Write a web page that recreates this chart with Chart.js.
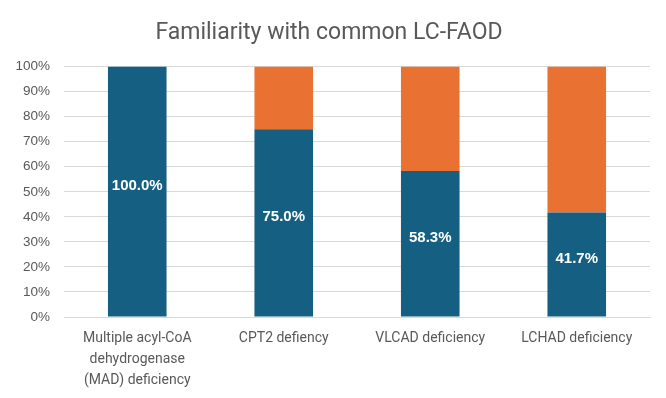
<!DOCTYPE html>
<html>
<head>
<meta charset="utf-8">
<script src="https://cdn.jsdelivr.net/npm/chart.js@4"></script>
<style>
  html, body { margin: 0; padding: 0; background: #fff; }
  #wrap { width: 666px; height: 398px; }
</style>
</head>
<body>
<div id="wrap"><canvas id="myChart" width="666" height="398"></canvas></div>
<script>
const categories = [
  ['Multiple acyl-CoA', 'dehydrogenase', '(MAD) deficiency'],
  'CPT2 defiency',
  'VLCAD deficiency',
  'LCHAD deficiency'
];
const familiar = [100.0, 75.0, 58.3, 41.7];
const notFamiliar = [0, 25.0, 41.7, 58.3];

// white bold value labels inside the blue bars
const barLabels = {
  id: 'barLabels',
  afterDatasetsDraw(chart) {
    const ctx = chart.ctx;
    const meta = chart.getDatasetMeta(0);
    ctx.save();
    ctx.fillStyle = '#ffffff';
    ctx.font = 'bold 15px "Liberation Sans", Arial, sans-serif';
    ctx.textAlign = 'center';
    ctx.textBaseline = 'middle';
    meta.data.forEach((bar, i) => {
      const y = (bar.y + bar.base) / 2 - 6;
      ctx.fillText(familiar[i].toFixed(1) + '%', bar.x, y);
    });
    ctx.restore();
  }
};

const ctx = document.getElementById('myChart').getContext('2d');
new Chart(ctx, {
  type: 'bar',
  data: {
    labels: categories,
    datasets: [
      { label: 'Familiar', data: familiar, backgroundColor: '#156082', barPercentage: 0.8, categoryPercentage: 0.5 },
      { label: 'Not familiar', data: notFamiliar, backgroundColor: '#E97132', barPercentage: 0.8, categoryPercentage: 0.5 }
    ]
  },
  options: {
    responsive: false,
    animation: false,
    layout: { padding: { left: 8, right: 16, top: 6, bottom: 4 } },
    plugins: {
      legend: { display: false },
      tooltip: { enabled: false },
      title: {
        display: true,
        text: 'Familiarity with common LC-FAOD',
        color: '#595959',
        font: { family: 'Roboto, sans-serif', size: 23, weight: 'normal' },
        padding: { top: 13, bottom: 20 }
      }
    },
    scales: {
      x: {
        stacked: true,
        grid: { display: false },
        border: { color: '#d9d9d9' },
        ticks: {
          color: '#595959',
          font: { family: 'Roboto, sans-serif', size: 14, lineHeight: 1.5 },
          maxRotation: 0,
          autoSkip: false,
          padding: 3
        }
      },
      y: {
        stacked: true,
        min: 0,
        max: 100,
        grid: { color: '#d9d9d9', drawTicks: false },
        border: { display: false },
        afterFit(scale) { scale.width = 56; },
        ticks: {
          stepSize: 10,
          color: '#595959',
          padding: 14,
          font: { family: '"Liberation Sans", Arial, sans-serif', size: 13.5 },
          callback: v => v + '%'
        }
      }
    }
  },
  plugins: [barLabels]
});
</script>
</body>
</html>
